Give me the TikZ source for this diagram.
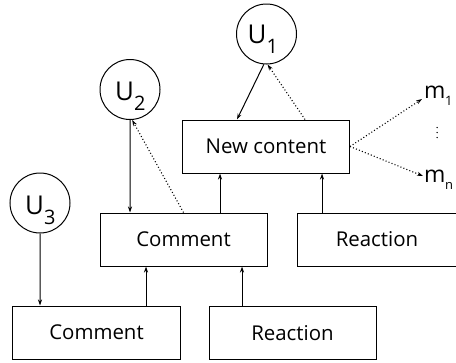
\documentclass[tikz,border=0pt]{standalone}
\usepackage{fontspec}
\setmainfont{Open Sans}
\usetikzlibrary{arrows.meta,calc}
\newcommand{\Usub}[1]{{\fontsize{26}{26}\selectfont U}\raisebox{-10bp}{\fontsize{20}{20}\selectfont #1}}
\newcommand{\msub}[1]{{\fontsize{23}{23}\selectfont m}\kern-0.5bp\raisebox{-7bp}{\fontsize{13}{13}\selectfont #1}}
\begin{document}
\begin{tikzpicture}[x=1bp,y=-1bp,
  box/.style={draw,line width=1bp,inner sep=0pt,minimum width=167bp,minimum height=53bp,font=\fontsize{20.5}{22}\selectfont},
  ucirc/.style={draw,circle,line width=1bp,inner sep=0pt,minimum size=60bp},
  utext/.style={anchor=base west,inner sep=0pt},
  arr/.style={line width=1bp,-{Stealth[length=6bp,width=4bp]}},
  dotarr/.style={line width=1.1bp,dash pattern=on 1bp off 2.2bp,-{Stealth[length=6bp,width=4bp]}}]
\useasboundingbox (0,0) rectangle (456,362);
% boxes
\node[box] (nc) at (266,146.5) {New content};
\node[box] (cm) at (183.5,239.5) {Comment};
\node[box,minimum width=160bp] (rx) at (377,239.5) {Reaction};
\node[box] (cb) at (96.5,332.5) {Comment};
\node[box] (rb) at (292.5,333) {Reaction};
% users
\node[ucirc] (U1) at (266.5,34) {};
\node[ucirc] (U2) at (130,89.5) {};
\node[ucirc] (U3) at (40,203) {};
\node[utext] (t1) at ($(U1.center)+(-19,9)$) {\Usub{1}};
\node[utext] (t2) at ($(U2.center)+(-15,10.5)$) {\Usub{2}};
\node[utext] (t3) at ($(U3.center)+(-15,11.5)$) {\Usub{3}};
% messages
\node[utext] (m1) at (424,98) {\msub{1}};
\node[utext] (mn) at (424,182) {\msub{n}};
\foreach \yy in {127.5,132.5,137.5} \fill (437,\yy) circle (0.75bp);
% connectors
\draw[arr] (U1.-95) -- ([xshift=-29bp]nc.north);
\draw[dotarr] ([xshift=39bp]nc.north) -- (U1.-88);
\draw[arr] (U2.south) -- ([xshift=-53.5bp]cm.north);
\draw[dotarr] (cm.north) -- (U2.-86);
\draw[arr] ([xshift=36.5bp]cm.north) -- ([xshift=36.5bp]cm.north |- nc.south);
\draw[arr] ([xshift=-55bp]rx.north) -- ([xshift=-55bp]rx.north |- nc.south);
\draw[arr] (U3.south) -- ([xshift=-56.5bp]cb.north);
\draw[arr] ([xshift=49.5bp]cb.north) -- ([xshift=49.5bp]cb.north |- cm.south);
\draw[arr] ([xshift=-50.5bp]rb.north) -- ([xshift=-50.5bp]rb.north |- cm.south);
\draw[dotarr] (nc.east) -- ($(m1.base west)+(-2,1)$);
\draw[dotarr] (nc.east) -- ($(mn.base west)+(-1,-6)$);
\end{tikzpicture}
\end{document}
